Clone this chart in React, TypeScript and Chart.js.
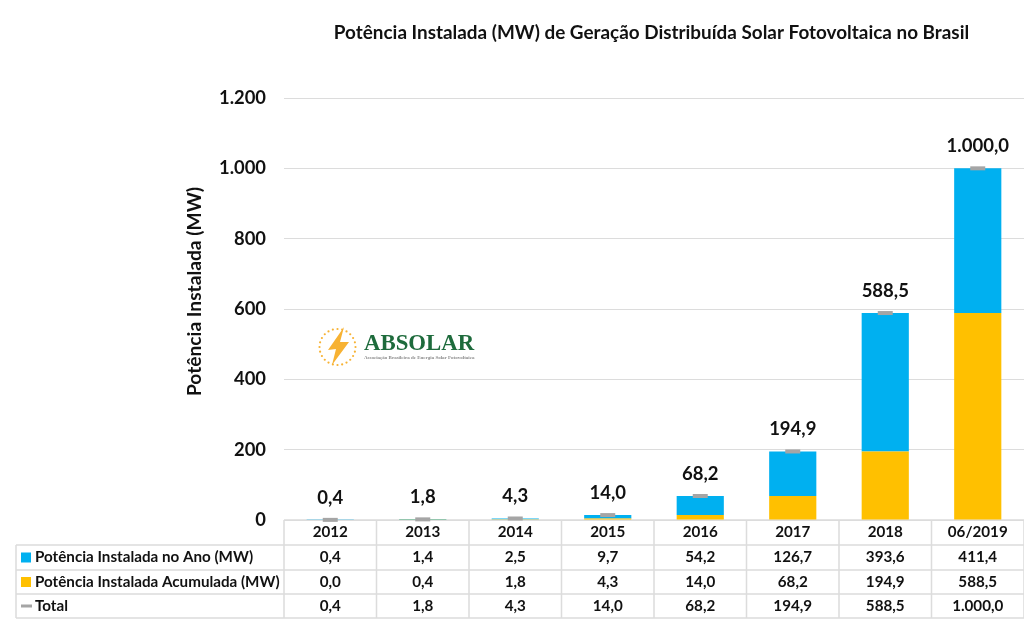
import { useEffect, useRef } from 'react';
import { Chart, registerables } from 'chart.js';

Chart.register(...registerables);

const categories = ['2012', '2013', '2014', '2015', '2016', '2017', '2018', '06/2019'];
const installedInYear = [0.4, 1.4, 2.5, 9.7, 54.2, 126.7, 393.6, 411.4];
const installedAccumulated = [0.0, 0.4, 1.8, 4.3, 14.0, 68.2, 194.9, 588.5];
const totals = [0.4, 1.8, 4.3, 14.0, 68.2, 194.9, 588.5, 1000.0];

const BLUE = '#00B0F0';
const ORANGE = '#FFC000';
const GRAY = '#A5A5A5';
const INK = '#111111';
const LINE = '#dcdcdc';
const FONT = 'Lato, Carlito, sans-serif';

// 1.000,0 style (pt-BR)
const fmt = (v: number, decimals = 1) => {
  const [int, dec] = v.toFixed(decimals).split('.');
  const grouped = int.replace(/\B(?=(\d{3})+(?!\d))/g, '.');
  return dec ? `${grouped},${dec}` : grouped;
};

const tableRows = [
  { label: 'Potência Instalada no Ano (MW)', color: BLUE, kind: 'box', values: installedInYear },
  { label: 'Potência Instalada Acumulada (MW)', color: ORANGE, kind: 'box', values: installedAccumulated },
  { label: 'Total', color: GRAY, kind: 'dash', values: totals },
];

const totalLabels = {
  id: 'totalLabels',
  afterDatasetsDraw(chart: any) {
    const { ctx, scales } = chart;
    ctx.save();
    ctx.font = `bold 18.5px ${FONT}`;
    ctx.fillStyle = INK;
    ctx.textAlign = 'center';
    ctx.textBaseline = 'bottom';
    totals.forEach((t, i) => {
      ctx.fillText(fmt(t), scales.x.getPixelForTick(i), scales.y.getPixelForValue(t) - 13);
    });
    ctx.textBaseline = 'middle';
    ctx.font = `bold 18.9px ${FONT}`;
    ctx.fillText('Potência Instalada (MW) de Geração Distribuída Solar Fotovoltaica no Brasil', 651.5, 33);
    // y axis title sits above the plot centre in the original
    ctx.translate(195, 291.5);
    ctx.rotate(-Math.PI / 2);
    ctx.font = `bold 19.2px ${FONT}`;
    ctx.fillText('Potência Instalada (MW)', 0, 0);
    ctx.restore();
  },
};

const dataTable = {
  id: 'dataTable',
  beforeDatasetsDraw(chart: any) {
    const { ctx, scales, chartArea } = chart;
    const rowTops = [chartArea.bottom, 545, 570, 594, 618];
    const legendLeft = 16;
    const colW = scales.x.getPixelForTick(1) - scales.x.getPixelForTick(0);
    ctx.save();
    ctx.strokeStyle = LINE;
    ctx.lineWidth = 1.5;
    ctx.beginPath();
    rowTops.forEach((y, r) => {
      ctx.moveTo(r === 0 ? chartArea.left : legendLeft, y);
      ctx.lineTo(chartArea.right, y);
    });
    ctx.moveTo(legendLeft, rowTops[1]);
    ctx.lineTo(legendLeft, rowTops[4]);
    for (let i = 0; i <= categories.length; i++) {
      const x = chartArea.left + i * colW;
      ctx.moveTo(x, rowTops[0]);
      ctx.lineTo(x, rowTops[4]);
    }
    ctx.stroke();

    ctx.font = `bold 15.2px ${FONT}`;
    ctx.fillStyle = INK;
    ctx.textBaseline = 'middle';
    ctx.textAlign = 'center';
    categories.forEach((c, i) => {
      ctx.fillText(c, scales.x.getPixelForTick(i), (rowTops[0] + rowTops[1]) / 2);
    });
    tableRows.forEach((row, r) => {
      const y = (rowTops[r + 1] + rowTops[r + 2]) / 2;
      ctx.fillStyle = row.color;
      if (row.kind === 'box') ctx.fillRect(21, y - 5, 10, 10);
      else ctx.fillRect(21, y - 1.5, 11, 3);
      ctx.fillStyle = INK;
      ctx.textAlign = 'left';
      ctx.fillText(row.label, 35, y);
      ctx.textAlign = 'center';
      row.values.forEach((v, i) => {
        ctx.fillText(fmt(v), scales.x.getPixelForTick(i), y);
      });
    });
    ctx.restore();
  },
};

const logo = {
  id: 'logo',
  beforeDatasetsDraw(chart: any) {
    const { ctx } = chart;
    const cx = 337.5;
    const cy = 347;
    ctx.save();
    ctx.fillStyle = '#F7B233';
    for (let i = 0; i < 24; i++) {
      const a = (i / 24) * Math.PI * 2;
      ctx.beginPath();
      ctx.arc(cx + 18 * Math.cos(a), cy + 18 * Math.sin(a), 1.1, 0, Math.PI * 2);
      ctx.fill();
    }
    ctx.beginPath();
    ctx.moveTo(344, 327);
    ctx.lineTo(328, 350);
    ctx.lineTo(336, 349);
    ctx.lineTo(332, 365);
    ctx.lineTo(349, 342);
    ctx.lineTo(340, 342);
    ctx.closePath();
    ctx.fill();
    ctx.fillStyle = '#1E6B3C';
    ctx.font = 'bold 22.8px "Liberation Serif", serif';
    ctx.textAlign = 'left';
    ctx.textBaseline = 'alphabetic';
    ctx.fillText('ABSOLAR', 364, 350);
    ctx.fillStyle = '#8a8a8a';
    ctx.font = 'bold 5px "Liberation Serif", serif';
    ctx.fillText('Associação Brasileira de Energia Solar Fotovoltaica', 364, 359);
    ctx.restore();
  },
};

export default function App() {
  const canvasRef = useRef<HTMLCanvasElement>(null);

  useEffect(() => {
    if (!canvasRef.current) return;
    document.body.style.margin = '0';
    document.body.style.background = '#fff';

    const chart = new Chart(canvasRef.current, {
      type: 'bar',
      data: {
        labels: categories,
        datasets: [
          {
            label: 'Potência Instalada Acumulada (MW)',
            data: installedAccumulated,
            backgroundColor: ORANGE,
            barPercentage: 0.51,
            categoryPercentage: 1,
            order: 2,
          },
          {
            label: 'Potência Instalada no Ano (MW)',
            data: installedInYear,
            backgroundColor: BLUE,
            barPercentage: 0.51,
            categoryPercentage: 1,
            order: 2,
          },
          {
            type: 'line',
            label: 'Total',
            data: totals,
            showLine: false,
            pointStyle: 'line',
            pointRadius: 7.5,
            borderColor: GRAY,
            backgroundColor: GRAY,
            pointBorderWidth: 4,
            clip: false,
            order: 1,
          } as any,
        ],
      },
      options: {
        responsive: false,
        animation: false,
        layout: { autoPadding: false, padding: { left: 0, right: 0, top: 98, bottom: 0 } },
        plugins: {
          legend: { display: false },
          tooltip: { enabled: false },
        },
        scales: {
          x: {
            stacked: true,
            grid: { display: false },
            border: { display: false },
            ticks: { display: false },
            afterFit: (s: any) => {
              s.height = 118;
            },
          },
          y: {
            stacked: true,
            min: 0,
            max: 1200,
            afterFit: (s: any) => {
              s.width = 284;
            },
            grid: { color: LINE, drawTicks: false },
            border: { display: false },
            ticks: {
              stepSize: 200,
              color: INK,
              padding: 18,
              font: { family: FONT, size: 18.4, weight: 'bold' },
              callback: (v: any) => fmt(Number(v), 0),
            },
          },
        },
      },
      plugins: [logo, dataTable, totalLabels],
    });

    return () => chart.destroy();
  }, []);

  return <canvas ref={canvasRef} width={1024} height={638} style={{ display: 'block' }} />;
}
